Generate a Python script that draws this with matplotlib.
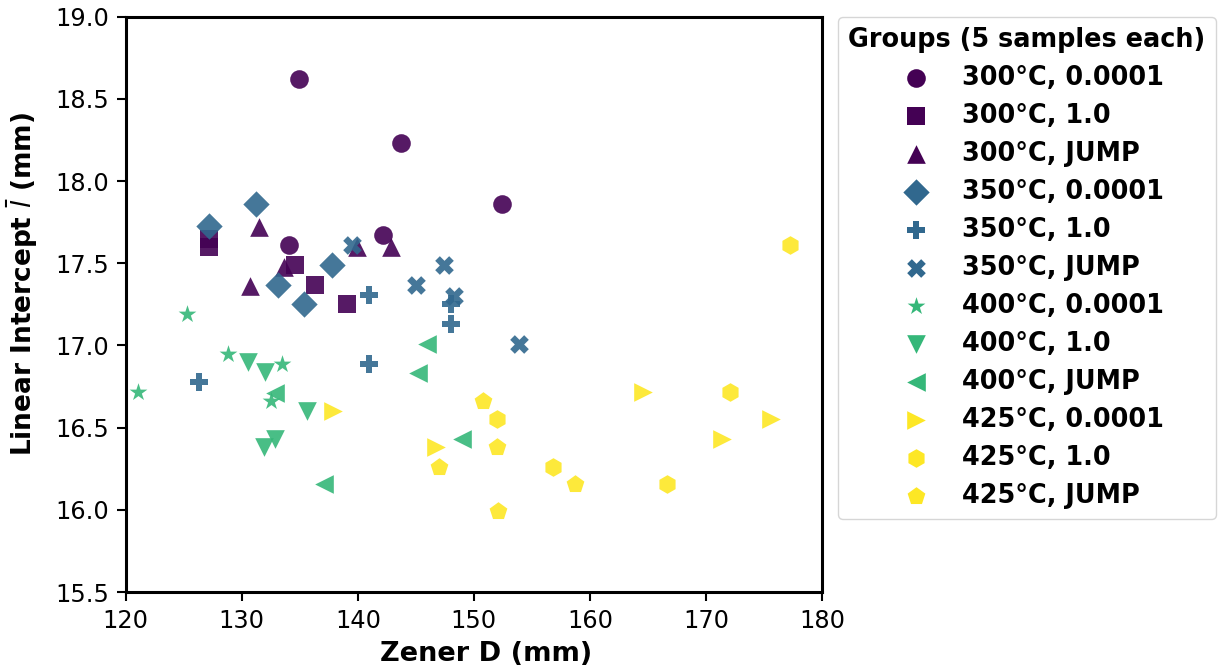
import matplotlib
matplotlib.use("Agg")
import matplotlib.pyplot as plt
import numpy as np

# group labels, markers and data
temps = ["300", "300", "300", "350", "350", "350", "400", "400", "400", "425", "425", "425"]
rates = ["0.0001", "1.0", "JUMP"] * 4
markers = ["o", "s", "^", "D", "P", "X", "*", "v", "<", ">", "h", "p"]

zener_d = [
    [134.9, 143.7, 152.4, 142.2, 134.1],   # 300, 0.0001
    [127.2, 127.2, 134.6, 136.3, 139.1],   # 300, 1.0
    [131.5, 133.6, 130.7, 139.9, 142.9],   # 300, JUMP
    [127.2, 131.2, 137.8, 133.1, 135.4],   # 350, 0.0001
    [126.3, 141.0, 148.0, 148.0, 141.0],   # 350, 1.0
    [139.5, 147.4, 145.0, 148.3, 153.9],   # 350, JUMP
    [125.3, 128.8, 133.5, 121.1, 132.5],   # 400, 0.0001
    [130.5, 132.0, 135.6, 132.9, 131.9],   # 400, 1.0
    [132.9, 137.1, 146.0, 145.2, 149.0],   # 400, JUMP
    [137.9, 146.7, 164.6, 175.6, 171.4],   # 425, 0.0001
    [152.0, 156.8, 172.1, 166.6, 177.2],   # 425, 1.0
    [150.8, 152.0, 147.0, 158.7, 152.1],   # 425, JUMP
]
intercept = [
    [18.62, 18.23, 17.86, 17.67, 17.61],
    [17.65, 17.60, 17.49, 17.37, 17.25],
    [17.72, 17.48, 17.36, 17.60, 17.60],
    [17.73, 17.86, 17.49, 17.37, 17.25],
    [16.78, 17.31, 17.25, 17.13, 16.89],
    [17.61, 17.49, 17.37, 17.30, 17.01],
    [17.19, 16.95, 16.89, 16.72, 16.66],
    [16.90, 16.84, 16.60, 16.43, 16.38],
    [16.71, 16.16, 17.01, 16.83, 16.43],
    [16.60, 16.38, 16.72, 16.55, 16.43],
    [16.55, 16.26, 16.72, 16.16, 17.61],
    [16.66, 16.38, 16.26, 16.16, 15.99],
]

temp_levels = ["300", "350", "400", "425"]
cmap = plt.get_cmap("viridis")
temp_colors = {t: cmap(i / (len(temp_levels) - 1)) for i, t in enumerate(temp_levels)}

plt.rcParams["font.family"] = "DejaVu Sans"

fig, ax = plt.subplots(figsize=(12.24, 6.71), dpi=100)
fig.subplots_adjust(left=0.1027, right=0.6716, top=0.975, bottom=0.1177)

for t, r, m, xs, ys in zip(temps, rates, markers, zener_d, intercept):
    ax.scatter(xs, ys, marker=m, s=180, color=temp_colors[t], alpha=0.9,
               linewidths=0, label=f"{t}°C, {r}")

ax.set_xlim(120, 180)
ax.set_ylim(15.5, 19.0)
ax.set_xticks(np.arange(120, 181, 10))
ax.set_yticks(np.arange(15.5, 19.01, 0.5))
ax.set_xlabel("Zener D (mm)", fontsize=19.5, fontweight="bold")
ax.set_ylabel(r"Linear Intercept $\bar{l}$ (mm)", fontsize=19, fontweight="bold")
ax.xaxis.set_label_coords(0.517, -0.085)
ax.yaxis.set_label_coords(-0.123, 0.535)
ax.tick_params(labelsize=17.3, length=6.5, width=1.5, pad=5.5)
for sp in ax.spines.values():
    sp.set_linewidth(2.2)

leg = ax.legend(title="Groups (5 samples each)", loc="upper left",
                bbox_to_anchor=(1.023, 1.0), borderaxespad=0, labelspacing=0.47,
                prop={"weight": "bold", "size": 18.4},
                title_fontproperties={"weight": "bold", "size": 18.4})
for h in leg.legend_handles:
    h.set_alpha(1)

fig.savefig("out.png", dpi=100)
